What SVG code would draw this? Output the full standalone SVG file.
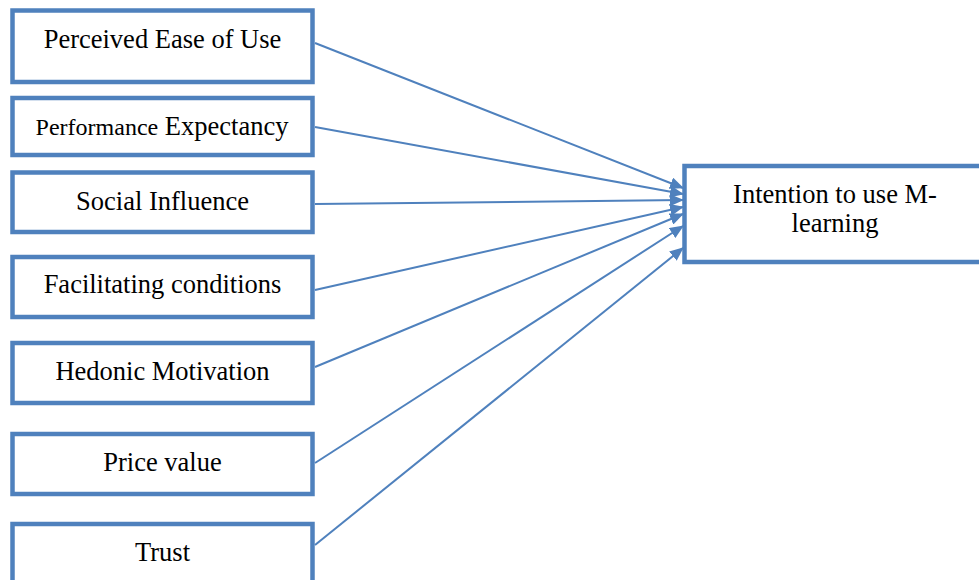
<svg xmlns="http://www.w3.org/2000/svg" width="979" height="580" viewBox="0 0 979 580">
<style>
.box{fill:#fff;stroke:#4F81BD;stroke-width:4.5}
.t{font-family:"Liberation Serif","Times New Roman",serif;font-size:26.5px;fill:#000;text-anchor:middle}
.c{stroke:#4F81BD;stroke-width:2;fill:none}
</style>
<defs>
<marker id="ah" markerWidth="14" markerHeight="12" refX="13" refY="6" orient="auto" markerUnits="userSpaceOnUse">
<path d="M0,0 L14,6 L0,12 Z" fill="#4F81BD"/>
</marker>
</defs>
<rect width="979" height="580" fill="#fff"/>
<g id="n1"><rect class="box" x="12.5" y="10.5" width="300" height="71.5"/><text class="t" x="162.5" y="48">Perceived Ease of Use</text></g>
<g id="n2"><rect class="box" x="12.5" y="98" width="300" height="57"/><text class="t" x="162" y="135"><tspan font-size="24">Performance</tspan> Expectancy</text></g>
<g id="n3"><rect class="box" x="12.5" y="172.5" width="300" height="59.5"/><text class="t" x="162.5" y="210">Social Influence</text></g>
<g id="n4"><rect class="box" x="12.5" y="257" width="300" height="60"/><text class="t" x="162.5" y="293">Facilitating conditions</text></g>
<g id="n5"><rect class="box" x="12.5" y="343" width="300" height="60"/><text class="t" x="162.5" y="380">Hedonic Motivation</text></g>
<g id="n6"><rect class="box" x="12.5" y="434" width="300" height="60"/><text class="t" x="162.5" y="471">Price value</text></g>
<g id="n7"><rect class="box" x="12.5" y="524" width="300" height="70"/><text class="t" x="162.5" y="561">Trust</text></g>
<g id="target"><rect class="box" x="684.5" y="166" width="302" height="96"/><text class="t" x="835" y="203">Intention to use M-</text><text class="t" x="835" y="232">learning</text></g>
<g id="connectors">
<line class="c" x1="315" y1="43" x2="683" y2="188" marker-end="url(#ah)"/>
<line class="c" x1="315" y1="127" x2="683" y2="194" marker-end="url(#ah)"/>
<line class="c" x1="315" y1="204" x2="683" y2="200" marker-end="url(#ah)"/>
<line class="c" x1="315" y1="290" x2="683" y2="207" marker-end="url(#ah)"/>
<line class="c" x1="315" y1="367" x2="683" y2="214" marker-end="url(#ah)"/>
<line class="c" x1="315" y1="463" x2="683" y2="226" marker-end="url(#ah)"/>
<line class="c" x1="315" y1="545" x2="683" y2="248" marker-end="url(#ah)"/>
</g>
</svg>
